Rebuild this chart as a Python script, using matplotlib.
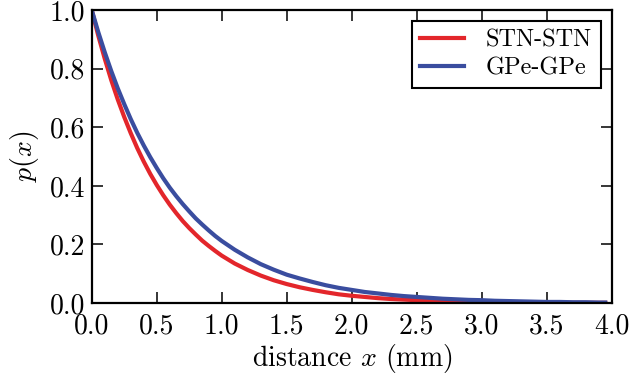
import matplotlib
matplotlib.use("Agg")
import matplotlib.pyplot as plt

# distance values (mm) and connection probabilities
x_mm = [0.0, 0.05, 0.1, 0.15, 0.2, 0.25, 0.3, 0.35, 0.4, 0.45,
        0.5, 0.55, 0.6, 0.65, 0.7, 0.75, 0.8, 0.85, 0.9, 0.95,
        1.0, 1.1, 1.2, 1.3, 1.4, 1.5, 1.6, 1.7, 1.8, 1.9,
        2.0, 2.1, 2.2, 2.3, 2.4, 2.5, 2.6, 2.7, 2.8, 2.9,
        3.0, 3.1, 3.2, 3.3, 3.4, 3.5, 3.6, 3.7, 3.8, 3.9, 3.95]

p_stn = [1.000, 0.913, 0.834, 0.761, 0.695, 0.635, 0.580, 0.529, 0.483, 0.441,
         0.403, 0.368, 0.336, 0.307, 0.280, 0.256, 0.234, 0.213, 0.195, 0.178,
         0.162, 0.135, 0.113, 0.094, 0.078, 0.065, 0.054, 0.045, 0.037, 0.030,
         0.025, 0.021, 0.017, 0.014, 0.012, 0.010, 0.008, 0.007, 0.006, 0.005,
         0.004, 0.003, 0.003, 0.002, 0.002, 0.002, 0.001, 0.001, 0.001, 0.001, 0.001]

p_gpe = [1.000, 0.925, 0.856, 0.792, 0.733, 0.679, 0.628, 0.581, 0.538, 0.498,
         0.461, 0.426, 0.394, 0.365, 0.338, 0.313, 0.289, 0.268, 0.248, 0.229,
         0.212, 0.182, 0.156, 0.133, 0.114, 0.097, 0.084, 0.072, 0.061, 0.052,
         0.045, 0.038, 0.033, 0.028, 0.024, 0.021, 0.018, 0.015, 0.013, 0.011,
         0.010, 0.008, 0.007, 0.006, 0.005, 0.004, 0.004, 0.003, 0.003, 0.002, 0.002]

labels = ["STN-STN", "GPe-GPe"]
colors = ["#e3262b", "#3a4d9f"]

plt.rcParams['font.family'] = ['cmr10', 'DejaVu Serif']
plt.rcParams['mathtext.fontset'] = 'cm'
plt.rcParams['axes.formatter.use_mathtext'] = True

fig = plt.figure(figsize=(6.3, 3.77), dpi=100)
ax = fig.add_axes([0.1456, 0.196, 0.8254, 0.7775])

ax.plot(x_mm, p_stn, color=colors[0], lw=3, label=labels[0])
ax.plot(x_mm, p_gpe, color=colors[1], lw=3, label=labels[1])

ax.set_xlim(0, 4.0)
ax.set_ylim(0, 1.0)
ax.set_xticks([0.0, 0.5, 1.0, 1.5, 2.0, 2.5, 3.0, 3.5, 4.0])
ax.set_yticks([0.0, 0.2, 0.4, 0.6, 0.8, 1.0])
ax.set_xticklabels(["%.1f" % t for t in ax.get_xticks()])
ax.set_yticklabels(["%.1f" % t for t in ax.get_yticks()])

for s in ax.spines.values():
    s.set_linewidth(1.6)
ax.tick_params(direction='in', length=8, width=1.1, top=True, right=True,
               labelsize=20)
ax.tick_params(axis='x', pad=7)
ax.tick_params(axis='y', pad=5)

ax.set_xlabel(r"distance $x$ (mm)", fontsize=20, labelpad=2)
ax.set_ylabel(r"$p(x)$", fontsize=20, labelpad=6)

leg = ax.legend(loc='upper right', fancybox=False, fontsize=17.5,
                handlelength=1.8, borderaxespad=0.45, framealpha=1,
                borderpad=0.35, labelspacing=0.25, handletextpad=0.9)
leg.get_frame().set_edgecolor('black')
leg.get_frame().set_linewidth(1.5)

fig.savefig("out.png", dpi=100)
